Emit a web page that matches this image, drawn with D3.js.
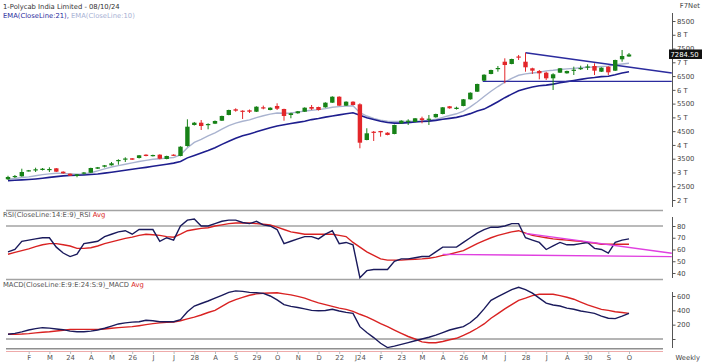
<!DOCTYPE html>
<html><head><meta charset="utf-8">
<script src="https://cdn.jsdelivr.net/npm/d3@7"></script>
<style>body{margin:0;background:#fff}svg{display:block;font-family:"DejaVu Sans",Verdana,sans-serif}</style>
</head><body><svg id="c" width="702" height="363"></svg>
<script>
// weekly candles [open, high, low, close]
const ohlc = [
[2752,2880,2727,2836],[2847,2908,2799,2872],[2861,3137,2847,3017],[3054,3090,3035,3079],[3090,3173,3017,3115],
[3090,3162,3072,3137],[3108,3188,3017,3126],[3151,3162,3017,3028],[3028,3042,2955,2969],[2955,2963,2872,2883],
[2872,2945,2825,2933],[2963,3017,2926,2999],[2992,3173,2981,3162],[3137,3199,3126,3188],[3209,3271,3181,3260],
[3260,3380,3250,3333],[3428,3478,3282,3453],[3489,3551,3380,3507],[3514,3525,3453,3464],[3525,3634,3507,3623],
[3646,3660,3587,3598],[3598,3646,3580,3634],[3646,3660,3478,3500],[3489,3609,3478,3598],[3646,3660,3598,3609],
[3598,3950,3587,3936],[3961,4930,3936,4662],[4724,4833,4705,4807],[4807,4905,4542,4687],[4742,4785,4567,4760],
[4771,4887,4757,4869],[4880,5062,4869,5051],[5087,5279,5076,5268],[5294,5330,5206,5243],[5243,5257,4942,5221],
[5257,5286,5160,5206],[5206,5403,5196,5388],[5366,5428,5294,5330],[5268,5366,5257,5352],[5414,5512,5268,5315],
[5305,5315,4880,5051],[5087,5170,4968,5149],[5149,5232,5134,5221],[5206,5366,5196,5352],[5377,5450,5268,5315],
[5377,5388,5250,5268],[5366,5548,5352,5534],[5534,5766,5523,5751],[5751,5766,5414,5425],[5425,5584,5414,5570],
[5570,5584,5439,5450],[5475,5512,3878,4081],[4179,4604,4168,4422],[4480,4506,4143,4470],[4506,4510,4299,4458],
[4444,4459,4350,4361],[4397,4735,4386,4724],[4785,4895,4760,4880],[4862,4931,4724,4880],[4833,4978,4822,4967],
[4967,5026,4785,4905],[4931,5087,4724,4953],[5004,5134,4989,5123],[5123,5377,5112,5366],[5403,5414,5315,5330],
[5305,5388,5286,5352],[5414,5668,5403,5657],[5657,5911,5642,5896],[5933,6223,5922,6213],[6333,6565,6322,6550],
[6576,6732,6565,6721],[6768,6866,6659,6793],[7022,7145,6238,6902],[6939,7131,6928,7120],[7211,7266,7084,7193],
[7022,7349,6659,6819],[6783,6804,6576,6696],[6685,6721,6383,6601],[6623,6659,6358,6419],[6419,6601,5995,6565],
[6623,6793,6612,6783],[6601,6696,6587,6685],[6710,6841,6539,6732],[6768,6877,6721,6793],[6830,6928,6721,6848],
[6866,6964,6539,6696],[6659,6819,6648,6805],[6841,6855,6539,6637],[6696,7095,6685,7084],[7109,7447,7022,7229],
[7211,7338,7200,7284.5]
];
const ema21 = [2700,2715,2730,2745,2765,2790,2820,2850,2875,2890,2900,2910,2925,2945,2975,3010,3045,3080,3115,3150,
3185,3225,3260,3300,3340,3400,3530,3620,3710,3800,3900,4020,4130,4240,4330,4400,4475,4550,4620,4690,
4735,4780,4820,4860,4920,4960,5010,5050,5090,5130,5170,5080,4990,4920,4860,4815,4790,4790,4810,4835,
4850,4865,4890,4930,4965,5000,5060,5136,5234,5300,5430,5570,5716,5844,5966,6043,6102,6147,6172,6208,
6260,6299,6338,6379,6422,6447,6480,6494,6548,6610,6660];
const ema10 = [2752,2780,2815,2840,2880,2920,2950,2970,2965,2950,2935,2945,2990,3060,3130,3200,3250,3300,3350,3400,
3440,3480,3500,3520,3545,3640,3900,4090,4200,4330,4440,4570,4700,4790,4860,4910,4990,5060,5120,5160,
5150,5160,5190,5230,5260,5280,5320,5370,5390,5410,5420,5170,5050,4960,4900,4860,4850,4850,4855,4865,
4870,4885,4930,5000,5070,5130,5230,5380,5560,5760,5950,6120,6280,6420,6530,6580,6610,6640,6690,6710,
6740,6760,6780,6800,6820,6830,6850,6860,6910,6940,6964];
const rsi = [58,60,67,68,69,70,70,62,57,54,56,65,66,67,71,73,75,76,73,77,77,77,67,70,68,80,85,86,80,80,
82,84,85,85,83,82,84,81,80,77,65,67,69,71,71,69,73,76,65,66,64,36,42,43,43,43,50,52,52,53,
54,54,58,62,62,62,66,70,74,77,79,79,80,82,82,70,68,66,60,63,66,64,64,65,66,61,60,57,66,68,69];
const rsiAvg = [56,57.5,59,60.5,62.5,64,65,65,64,63,61,61,61.5,63,65,66.5,68,69.5,70.5,72,73,72.5,72,71,70.5,73,76,77,78,78.5,
80,81,82,82.5,82.5,82.5,82,81.5,81,79,77,75,74,73,73,73,73,73,72,71,66,62,58,55,52,51,51,51,51.5,51.7,
52,52.5,53.5,55,56,57.5,59,62,65,67.5,70,72,73.5,75,76,74,72,71,70,69,68.5,68,67.5,67,66,65.5,64.5,64.5,64.5,64.5,64.5];
const macd = [66,78,100,125,145,158,152,140,130,110,102,102,110,125,150,180,210,225,235,241,262,255,241,240,241,270,380,460,495,530,
570,610,650,672,665,650,645,636,600,545,480,455,440,420,400,395,398,414,390,372,358,172,90,20,-60,-120,-100,-75,-50,-25,
0,25,55,90,125,150,172,230,310,420,540,590,640,690,721,690,640,570,500,475,460,430,415,390,375,358,320,290,285,320,358];
const macdAvg = [66,67,69,75,85,95,102,112,122,132,135,135,135,135,140,150,158,165,172,185,200,214,225,232,238,255,280,305,335,370,
400,455,510,550,580,610,630,638,642,646,630,615,595,570,535,505,480,455,430,414,385,345,310,265,215,172,125,80,35,0,
-40,-52,-52,-35,-10,10,50,95,150,210,290,355,420,480,540,570,605,624,624,624,605,582,555,515,475,445,414,400,381,370,358];
const xLabels = ["F","M","24","A","M","26","J","J","28","A","S","29","O","N","D","22","J24","F","23","M","A","26","M","J","28","J","A","30","S","O"];
const priceTicks = [2000,2500,3000,3500,4000,4500,5000,5500,6000,6500,7000,7500,8000,8500];
const rsiTicks = [40,50,60,70,80];
const macdTicks = [0,200,400,600];
const priceTrend = [[[75,7349],[96.2,6612]],[[68.8,6306],[96.2,6306]]];
const rsiTrend = [[[75,73.8],[96.2,56.8]],[[63,55.9],[96.2,53.9]]];
const lastPrice = 7284.5;

const svg = d3.select('#c');
const FS = 6.8;
const x = d3.scaleLinear().domain([0, ohlc.length - 1]).range([8, 629]);
const yP = d3.scaleLinear().domain([2000, 8500]).range([200, 21]);
const yR = d3.scaleLinear().domain([40, 80]).range([273, 226]);
const yM = d3.scaleLinear().domain([0, 600]).range([339, 296]);
const L = 6, R = 663, AX = 672;

const defs = svg.append('defs');
function clip(id, y0, y1) { defs.append('clipPath').attr('id', id).append('rect').attr('x', 0).attr('y', y0).attr('width', AX).attr('height', y1 - y0); }
clip('cp', 10, 210); clip('cr', 211, 279); clip('cm', 280, 348.5);

// panel lines
const hl = (y, c, w) => svg.append('line').attr('x1', L).attr('x2', R).attr('y1', y).attr('y2', y).attr('stroke', c).attr('stroke-width', w);
hl(210.5, '#a3a3a3', 1.5);
hl(yR(80), '#a3a3a3', 1.5);
hl(279.5, '#a3a3a3', 1.5);
hl(yM(0), '#6a6a6a', 1);
hl(348.8, '#8f8f8f', 1.5);
hl(351.5, '#eeaaaa', 1);

// main panel
const gp = svg.append('g').attr('clip-path', 'url(#cp)');
const lineP = d3.line().x((d, i) => x(i)).y(d => yP(d));
gp.append('path').datum(ema10).attr('d', lineP).attr('fill', 'none').attr('stroke', '#a9b3cf').attr('stroke-width', 1.4);
gp.append('path').datum(ema21).attr('d', lineP).attr('fill', 'none').attr('stroke', '#1e1e8e').attr('stroke-width', 1.6);
const tl = d3.line().x(d => x(d[0])).y(d => yP(d[1]));
priceTrend.forEach(t => gp.append('path').attr('d', tl(t)).attr('fill', 'none').attr('stroke', '#2b2b9e').attr('stroke-width', 1.4));
const gc = svg.append('g');
const cd = gc.selectAll('g').data(ohlc).join('g');
const col = d => d[3] >= d[0] ? '#178217' : '#e3262a';
cd.append('line').attr('x1', (d, i) => x(i)).attr('x2', (d, i) => x(i))
  .attr('y1', d => yP(d[1])).attr('y2', d => yP(d[2])).attr('stroke', col).attr('stroke-width', 1);
cd.append('rect').attr('x', (d, i) => x(i) - 2.2).attr('width', 4.4)
  .attr('y', d => yP(Math.max(d[0], d[3])))
  .attr('height', d => Math.max(1.2, Math.abs(yP(d[0]) - yP(d[3]))))
  .attr('fill', col);

// RSI panel
const gr = svg.append('g').attr('clip-path', 'url(#cr)');
const lineR = d3.line().x((d, i) => x(i)).y(d => yR(d));
const tlr = d3.line().x(d => x(d[0])).y(d => yR(d[1]));
rsiTrend.forEach(t => svg.append('path').attr('d', tlr(t)).attr('fill', 'none').attr('stroke', '#e040e0').attr('stroke-width', 1.3));
gr.append('path').datum(rsiAvg).attr('d', lineR).attr('fill', 'none').attr('stroke', '#d92222').attr('stroke-width', 1.4);
gr.append('path').datum(rsi).attr('d', lineR).attr('fill', 'none').attr('stroke', '#1a1a5c').attr('stroke-width', 1.4);

// MACD panel
const gm = svg.append('g').attr('clip-path', 'url(#cm)');
const lineM = d3.line().x((d, i) => x(i)).y(d => yM(d));
gm.append('path').datum(macdAvg).attr('d', lineM).attr('fill', 'none').attr('stroke', '#d92222').attr('stroke-width', 1.4);
gm.append('path').datum(macd).attr('d', lineM).attr('fill', 'none').attr('stroke', '#1a1a5c').attr('stroke-width', 1.4);

// right axes
function rAxis(scale, ticks, fmt, y0, y1) {
  svg.append('line').attr('x1', AX + 0.5).attr('x2', AX + 0.5).attr('y1', y0).attr('y2', y1).attr('stroke', '#555').attr('stroke-width', 1);
  const g = svg.append('g').attr('transform', `translate(${AX + 0.5},0)`)
    .call(d3.axisRight(scale).tickValues(ticks).tickFormat(fmt).tickSize(3).tickPadding(1.5));
  g.select('.domain').remove();
  g.selectAll('line').attr('stroke', '#555');
  g.selectAll('text').attr('font-size', FS).attr('fill', '#444').attr('font-family', '"DejaVu Sans",Verdana,sans-serif');
}
rAxis(yP, priceTicks, v => v % 1000 === 0 ? (v / 1000) + ' T' : String(v), 13, 207);
rAxis(yR, rsiTicks, d3.format('d'), 217, 278);
rAxis(yM, macdTicks, v => v === 0 ? '' : String(v), 292, 348);

// last price box
const lp = svg.append('g').attr('transform', `translate(669,${yP(lastPrice)})`);
lp.append('rect').attr('x', 0).attr('y', -5).attr('width', 33).attr('height', 9.5).attr('fill', '#111');
lp.append('text').attr('x', 1.5).attr('y', 2.5).attr('font-size', FS).attr('fill', '#fff').text(lastPrice.toFixed(2));

// x axis
const gx = svg.append('g').attr('transform', 'translate(0,351)')
  .call(d3.axisBottom(x).tickValues(xLabels.map((d, k) => 3 + 3 * k)).tickFormat((d, k) => xLabels[k]).tickSize(3).tickPadding(1));
gx.select('.domain').remove();
gx.selectAll('line').attr('stroke', '#bbb');
gx.selectAll('text').attr('font-size', FS).attr('fill', '#555').attr('font-family', '"DejaVu Sans",Verdana,sans-serif');

// texts
const t = (xx, yy, parts, anchor) => {
  const el = svg.append('text').attr('x', xx).attr('y', yy).attr('font-size', FS).attr('text-anchor', anchor || 'start');
  parts.forEach(p => el.append('tspan').attr('fill', p[1]).text(p[0]));
};
t(3, 9, [['1-Polycab India Limited - 08/10/24', '#333']]);
t(3, 18, [['EMA(CloseLine:21), ', '#2d2d9c'], ['EMA(CloseLine:10)', '#a7b1d4']]);
t(3, 217, [['RSI(CloseLine:14:E:9)_RSI ', '#555'], ['Avg', '#d92222']]);
t(3, 287, [['MACD(CloseLine:E:9:E:24:S:9)_MACD ', '#555'], ['Avg', '#d92222']]);
t(700, 8, [['F7Net', '#444']], 'end');
t(700, 360, [['Weekly', '#444']], 'end');
</script></body></html>
